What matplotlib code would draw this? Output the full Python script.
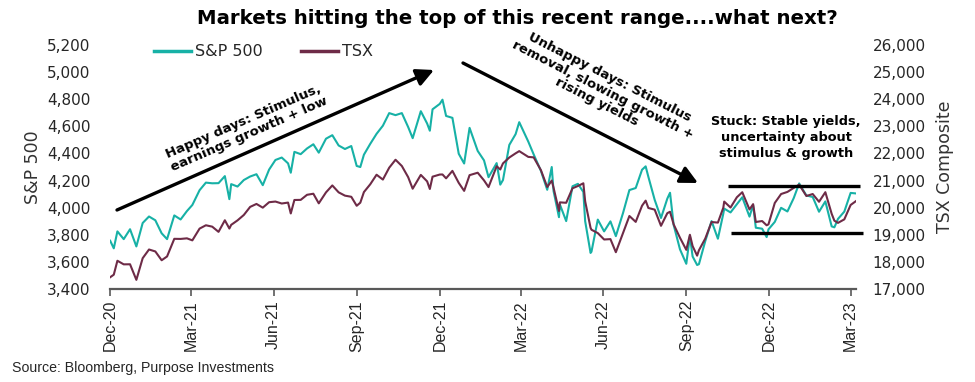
import matplotlib
matplotlib.use("Agg")
import matplotlib.pyplot as plt
import matplotlib.dates as mdates
import matplotlib.ticker as mticker
import pandas as pd

# values (S&P 500 and TSX Composite)
dates = [
    "2020-12-31", "2021-01-04", "2021-01-08", "2021-01-15", "2021-01-22", "2021-01-29",
    "2021-02-05", "2021-02-12", "2021-02-19", "2021-02-26", "2021-03-04", "2021-03-12",
    "2021-03-19", "2021-03-26", "2021-04-01", "2021-04-09", "2021-04-16", "2021-04-23",
    "2021-04-30", "2021-05-07", "2021-05-12", "2021-05-14", "2021-05-21", "2021-05-28",
    "2021-06-04", "2021-06-11", "2021-06-18", "2021-06-25", "2021-07-02", "2021-07-09",
    "2021-07-16", "2021-07-19", "2021-07-23", "2021-07-30", "2021-08-06", "2021-08-13",
    "2021-08-19", "2021-08-27", "2021-09-03", "2021-09-10", "2021-09-17", "2021-09-24",
    "2021-09-30", "2021-10-04", "2021-10-08", "2021-10-15", "2021-10-22", "2021-10-29",
    "2021-11-05", "2021-11-12", "2021-11-19", "2021-11-26", "2021-12-01", "2021-12-10",
    "2021-12-17", "2021-12-20", "2021-12-23", "2021-12-31", "2022-01-03", "2022-01-07",
    "2022-01-14", "2022-01-21", "2022-01-27", "2022-02-02", "2022-02-11", "2022-02-18",
    "2022-02-23", "2022-03-04", "2022-03-08", "2022-03-11", "2022-03-18", "2022-03-25",
    "2022-03-29", "2022-04-08", "2022-04-14", "2022-04-22", "2022-04-29", "2022-05-04",
    "2022-05-06", "2022-05-12", "2022-05-13", "2022-05-20", "2022-05-27", "2022-06-02",
    "2022-06-08", "2022-06-10", "2022-06-16", "2022-06-17", "2022-06-24", "2022-07-01",
    "2022-07-08", "2022-07-14", "2022-07-22", "2022-07-29", "2022-08-05", "2022-08-12",
    "2022-08-16", "2022-08-19", "2022-08-26", "2022-09-02", "2022-09-09", "2022-09-12",
    "2022-09-16", "2022-09-23", "2022-09-30", "2022-10-04", "2022-10-07", "2022-10-12",
    "2022-10-14", "2022-10-21", "2022-10-28", "2022-11-04", "2022-11-10", "2022-11-11",
    "2022-11-18", "2022-11-25", "2022-12-01", "2022-12-09", "2022-12-13", "2022-12-16",
    "2022-12-23", "2022-12-28", "2022-12-30", "2023-01-06", "2023-01-13", "2023-01-20",
    "2023-01-27", "2023-02-02", "2023-02-10", "2023-02-17", "2023-02-24", "2023-03-03",
    "2023-03-10", "2023-03-13", "2023-03-17", "2023-03-24", "2023-03-31", "2023-04-06",
]
spx = [
    3756, 3700, 3825, 3768, 3841, 3714,
    3887, 3935, 3907, 3811, 3768, 3943,
    3913, 3975, 4020, 4129, 4185, 4180,
    4181, 4233, 4063, 4174, 4156, 4204,
    4230, 4247, 4166, 4281, 4352, 4370,
    4327, 4258, 4412, 4395, 4437, 4468,
    4406, 4509, 4535, 4459, 4433, 4455,
    4308, 4300, 4391, 4471, 4545, 4605,
    4698, 4683, 4698, 4595, 4513, 4712,
    4621, 4568, 4726, 4766, 4797, 4677,
    4663, 4398, 4326, 4589, 4419, 4349,
    4225, 4329, 4170, 4204, 4463, 4543,
    4631, 4488, 4393, 4272, 4132, 4300,
    4123, 3930, 4024, 3901, 4158, 4176,
    4116, 3901, 3666, 3675, 3912, 3825,
    3899, 3790, 3962, 4130, 4145, 4280,
    4305, 4228, 4058, 3924, 4067, 4110,
    3873, 3693, 3586, 3791, 3640, 3577,
    3583, 3753, 3901, 3771, 3956, 3993,
    3965, 4026, 4077, 3934, 4019, 3852,
    3845, 3783, 3840, 3895, 3999, 3972,
    4071, 4179, 4090, 4079, 3970, 4046,
    3862, 3855, 3917, 3971, 4109, 4105,
]
tsx = [
    17433, 17528, 18042, 17909, 17912, 17337,
    18136, 18457, 18385, 18060, 18200, 18851,
    18847, 18869, 18794, 19228, 19351, 19300,
    19108, 19536, 19230, 19366, 19531, 19731,
    20029, 20138, 20001, 20202, 20226, 20154,
    20188, 19787, 20284, 20288, 20475, 20515,
    20160, 20565, 20821, 20566, 20444, 20402,
    20070, 20185, 20576, 20863, 21216, 21037,
    21475, 21769, 21538, 21126, 20700, 21210,
    20971, 20690, 21144, 21223, 21226, 21083,
    21358, 20916, 20620, 21200, 21290, 21007,
    20760, 21528, 21410, 21634, 21851, 22006,
    22087, 21874, 21856, 21386, 20762, 21000,
    20738, 19880, 20196, 20181, 20716, 20800,
    20900, 20237, 19255, 19186, 19062, 18826,
    18840, 18357, 19074, 19693, 19476, 20072,
    20260, 19989, 19928, 19331, 19798, 19850,
    19385, 18891, 18444, 19000, 18583, 18230,
    18428, 18860, 19471, 19449, 20000, 20225,
    20005, 20384, 20570, 19934, 20130, 19472,
    19507, 19350, 19385, 20174, 20504, 20582,
    20730, 20850, 20431, 20504, 20218, 20572,
    19774, 19520, 19439, 19569, 20100, 20245,
]
tick_dates = ["2020-12-31", "2021-03-31", "2021-06-30", "2021-09-30", "2021-12-31",
              "2022-03-31", "2022-06-30", "2022-09-30", "2022-12-31", "2023-03-31"]
range_top = 20810
range_bottom = 19080

x = pd.to_datetime(dates)
teal = "#17B1A6"
maroon = "#6E2B47"
txt = "#262626"

fig = plt.figure(figsize=(9.75, 3.82), dpi=100)
ax = fig.add_axes([0.113, 0.2435, 0.765, 0.6385])
ax2 = ax.twinx()

l1, = ax.plot(x, spx, color=teal, lw=1.5, label="S&P 500")
l2, = ax2.plot(x, tsx, color=maroon, lw=1.5, label="TSX")

ax.set_xlim(pd.Timestamp("2020-12-31"), pd.Timestamp("2023-04-06"))
ax.set_ylim(3400, 5200)
ax2.set_ylim(17000, 26000)
ax.yaxis.set_major_locator(mticker.MultipleLocator(200))
ax2.yaxis.set_major_locator(mticker.MultipleLocator(1000))
ax.yaxis.set_major_formatter(mticker.StrMethodFormatter("{x:,.0f}"))
ax2.yaxis.set_major_formatter(mticker.StrMethodFormatter("{x:,.0f}"))

ax.set_xticks(pd.to_datetime(tick_dates))
ax.xaxis.set_major_formatter(mdates.DateFormatter("%b-%y"))
for lab in ax.get_xticklabels():
    lab.set_rotation(90)
    lab.set_fontfamily("Liberation Sans")
    lab.set_fontsize(11.5)
    lab.set_color(txt)

for a in (ax, ax2):
    for s in ("top", "left", "right"):
        a.spines[s].set_visible(False)
ax2.spines["bottom"].set_visible(False)
ax.spines["bottom"].set_color("#595959")
ax.spines["bottom"].set_linewidth(1.6)
ax.tick_params(axis="x", direction="out", length=5, width=1.2, color="#595959", pad=3)
ax.tick_params(axis="y", length=0, pad=14, labelsize=11, labelcolor=txt)
ax2.tick_params(axis="y", length=0, pad=12, labelsize=11, labelcolor=txt)

ax.set_ylabel("S&P 500", fontsize=12.5, color="#333333", labelpad=4)
ax2.set_ylabel("TSX Composite", fontsize=12.5, color="#333333", labelpad=7)

leg = ax2.legend([l1, l2], ["S&P 500", "TSX"], loc="center left", ncol=2, frameon=False,
                 bbox_to_anchor=(140 / 975, 1 - 52 / 382), bbox_transform=fig.transFigure,
                 fontsize=11.5, handlelength=2.3, handletextpad=0.25, columnspacing=2.4)
for t in leg.get_texts():
    t.set_color(txt)
for h in leg.get_lines():
    h.set_linewidth(2.5)

# trading range lines
ax2.plot(pd.to_datetime(["2022-11-15", "2023-04-10"]), [range_top, range_top],
         color="black", lw=2.4, clip_on=False, solid_capstyle="butt")
ax2.plot(pd.to_datetime(["2022-11-18", "2023-04-14"]), [range_bottom, range_bottom],
         color="black", lw=2.4, clip_on=False, solid_capstyle="butt")


def fp(px, py):
    return (px / 975, 1 - py / 382)


arrow = dict(arrowstyle="-|>", lw=2.4, color="black", mutation_scale=26, shrinkA=0, shrinkB=0)
fig.add_artist(plt.Annotation("", xy=fp(434, 70), xytext=fp(117, 210),
                              xycoords="figure fraction", textcoords="figure fraction",
                              arrowprops=arrow))
fig.add_artist(plt.Annotation("", xy=fp(698, 183), xytext=fp(463, 63),
                              xycoords="figure fraction", textcoords="figure fraction",
                              arrowprops=arrow))

fig.text(*fp(246, 128), "Happy days: Stimulus,\nearnings growth + low", rotation=23.5,
         ha="center", va="center", fontsize=9.5, fontweight="bold", linespacing=1.15,
         rotation_mode="anchor")
fig.text(*fp(603, 90), "Unhappy days: Stimulus\nremoval, slowing growth +\nrising yields",
         rotation=-27, ha="center", va="center", fontsize=9.5, fontweight="bold",
         linespacing=1.1, rotation_mode="anchor")
fig.text(*fp(786, 137), "Stuck: Stable yields,\nuncertainty about\nstimulus & growth",
         ha="center", va="center", fontsize=9.3, fontweight="bold", linespacing=1.3)

fig.text(*fp(517, 18), "Markets hitting the top of this recent range....what next?",
         ha="center", va="center", fontsize=14.2, fontweight="bold")
fig.text(*fp(12, 368), "Source: Bloomberg, Purpose Investments", ha="left", va="center",
         fontsize=10.2, color=txt, family="Liberation Sans")

fig.savefig("out.png", dpi=100)
